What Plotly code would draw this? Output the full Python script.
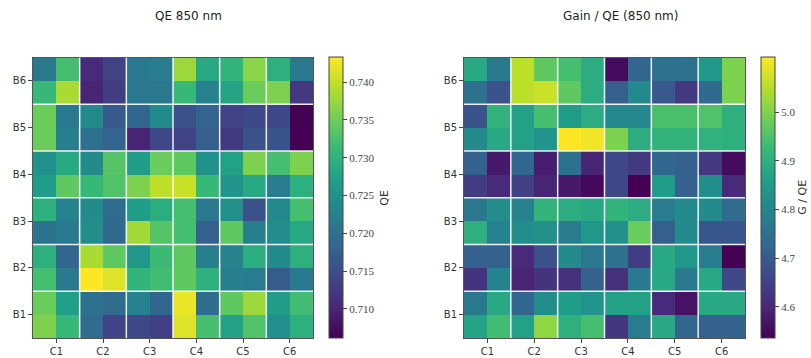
import plotly.graph_objects as go

# ---------------- data ----------------
col_labels = ["C1", "C2", "C3", "C4", "C5", "C6"]
row_labels = ["B6", "B5", "B4", "B3", "B2", "B1"]   # top to bottom

# QE 850 nm, 12x12 sub-cells, rows listed top (B6) to bottom (B1)
qe_r12 = [0.7210, 0.7321, 0.7106, 0.7135, 0.7210, 0.7217, 0.7377, 0.7284, 0.7303, 0.7366, 0.7295, 0.7210]
qe_r11 = [0.7310, 0.7385, 0.7098, 0.7128, 0.7210, 0.7210, 0.7310, 0.7228, 0.7277, 0.7347, 0.7359, 0.7124]
qe_r10 = [0.7347, 0.7210, 0.7236, 0.7165, 0.7184, 0.7240, 0.7154, 0.7180, 0.7135, 0.7143, 0.7143, 0.7061]
qe_r09 = [0.7347, 0.7221, 0.7199, 0.7180, 0.7098, 0.7143, 0.7135, 0.7173, 0.7124, 0.7154, 0.7158, 0.7062]
qe_r08 = [0.7247, 0.7284, 0.7240, 0.7333, 0.7266, 0.7347, 0.7340, 0.7247, 0.7273, 0.7359, 0.7321, 0.7359]
qe_r07 = [0.7266, 0.7340, 0.7310, 0.7329, 0.7359, 0.7396, 0.7403, 0.7310, 0.7254, 0.7284, 0.7217, 0.7295]
qe_r06 = [0.7295, 0.7228, 0.7240, 0.7191, 0.7266, 0.7292, 0.7321, 0.7210, 0.7247, 0.7154, 0.7236, 0.7321]
qe_r05 = [0.7202, 0.7214, 0.7243, 0.7187, 0.7381, 0.7333, 0.7321, 0.7176, 0.7340, 0.7221, 0.7243, 0.7284]
qe_r04 = [0.7295, 0.7184, 0.7385, 0.7340, 0.7258, 0.7314, 0.7340, 0.7221, 0.7228, 0.7292, 0.7240, 0.7295]
qe_r03 = [0.7321, 0.7214, 0.7433, 0.7414, 0.7303, 0.7318, 0.7340, 0.7295, 0.7221, 0.7217, 0.7169, 0.7214]
qe_r02 = [0.7347, 0.7269, 0.7199, 0.7191, 0.7225, 0.7184, 0.7422, 0.7191, 0.7340, 0.7377, 0.7266, 0.7318]
qe_r01 = [0.7359, 0.7310, 0.7191, 0.7135, 0.7143, 0.7132, 0.7414, 0.7321, 0.7273, 0.7329, 0.7247, 0.7295]

# Gain / QE (850 nm)
gq_r12 = [4.882, 4.766, 5.055, 4.969, 4.940, 4.893, 4.552, 4.726, 4.749, 4.749, 4.841, 4.997]
gq_r11 = [4.749, 4.685, 5.055, 5.067, 4.969, 4.893, 4.708, 4.807, 4.697, 4.633, 4.732, 4.997]
gq_r10 = [4.685, 4.911, 4.864, 4.940, 4.853, 4.893, 4.807, 4.807, 4.945, 4.945, 4.951, 4.899]
gq_r09 = [4.812, 4.882, 4.864, 4.836, 5.113, 5.101, 4.997, 4.893, 4.911, 4.911, 4.905, 4.899]
gq_r08 = [4.714, 4.575, 4.726, 4.581, 4.749, 4.593, 4.662, 4.633, 4.726, 4.714, 4.633, 4.552]
gq_r07 = [4.639, 4.604, 4.645, 4.593, 4.575, 4.547, 4.662, 4.535, 4.853, 4.714, 4.818, 4.604]
gq_r06 = [4.766, 4.818, 4.795, 4.911, 4.893, 4.882, 4.911, 4.893, 4.778, 4.812, 4.812, 4.737]
gq_r05 = [4.899, 4.789, 4.818, 4.824, 4.778, 4.841, 4.824, 4.980, 4.708, 4.812, 4.691, 4.691]
gq_r04 = [4.714, 4.714, 4.604, 4.680, 4.812, 4.766, 4.749, 4.639, 4.882, 4.841, 4.778, 4.535]
gq_r03 = [4.622, 4.795, 4.593, 4.622, 4.616, 4.714, 4.616, 4.772, 4.882, 4.772, 4.882, 4.662]
gq_r02 = [4.766, 4.882, 4.726, 4.818, 4.853, 4.836, 4.864, 4.864, 4.604, 4.564, 4.882, 4.882]
gq_r01 = [4.870, 4.934, 4.864, 5.015, 4.899, 4.940, 4.627, 4.778, 4.882, 4.726, 4.714, 4.714]

qe_ticks = [0.710, 0.715, 0.720, 0.725, 0.730, 0.735, 0.740]
gq_ticks = [4.6, 4.7, 4.8, 4.9, 5.0]
qe_range = [0.7061, 0.7433]
gq_range = [4.535, 5.113]

qe_z = [qe_r12, qe_r11, qe_r10, qe_r09, qe_r08, qe_r07, qe_r06, qe_r05, qe_r04, qe_r03, qe_r02, qe_r01]
gq_z = [gq_r12, gq_r11, gq_r10, gq_r09, gq_r08, gq_r07, gq_r06, gq_r05, gq_r04, gq_r03, gq_r02, gq_r01]

# ---------------- layout ----------------
W, H = 811, 358
n = len(qe_z)
sub = list(range(n))
block_centers = [2 * i + 0.5 for i in range(len(col_labels))]
block_edges = [2 * i + 1.5 for i in range(len(col_labels) - 1)]

def px_x(p):
    return p / W

def px_y(p):
    return 1 - p / H

top, bottom = 57.5, 338.0
ydom = [px_y(bottom), px_y(top)]
panels = [
    dict(x0=33, x1=313, cb=329, z=qe_z, rng=qe_range, ticks=qe_ticks, fmt=".3f",
         title="QE 850 nm", tcx=188, cbt="QE", cbtx=385),
    dict(x0=464, x1=745, cb=761, z=gq_z, rng=gq_range, ticks=gq_ticks, fmt=".1f",
         title="Gain / QE (850 nm)", tcx=620, cbt="G / QE", cbtx=803),
]

fig = go.Figure()
annotations = []
shapes = []
axis_font = dict(family="DejaVu Sans", size=10, color="#333333")
for i, p in enumerate(panels):
    sfx = "" if i == 0 else str(i + 1)
    fig.add_trace(go.Heatmap(
        z=p["z"], x=sub, y=sub,
        colorscale="Viridis", zmin=p["rng"][0], zmax=p["rng"][1],
        xaxis="x" + sfx, yaxis="y" + sfx,
        colorbar=dict(
            x=px_x(p["cb"]), xanchor="left", xref="paper",
            y=(ydom[0] + ydom[1]) / 2, yanchor="middle",
            thickness=14, thicknessmode="pixels",
            len=bottom - top, lenmode="pixels",
            outlinecolor="#444444", outlinewidth=1,
            tickvals=p["ticks"], tickformat=p["fmt"],
            ticks="outside", ticklen=4, tickcolor="#444444",
            tickfont=dict(family="Liberation Serif", size=11, color="#444444"),
            xpad=0, ypad=0,
        ),
        hoverinfo="z",
    ))
    xa = dict(domain=[px_x(p["x0"]), px_x(p["x1"])], range=[-0.5, n - 0.5],
              tickvals=block_centers, ticktext=col_labels, ticks="outside",
              ticklen=4, tickcolor="#444444", tickfont=axis_font,
              showgrid=False, zeroline=False, showline=True, mirror=True,
              linecolor="#555555", linewidth=1, anchor="y" + sfx, fixedrange=True)
    ya = dict(domain=ydom, range=[n - 0.5, -0.5],
              tickvals=block_centers, ticktext=row_labels, ticks="outside",
              ticklen=4, tickcolor="#444444", tickfont=axis_font,
              showgrid=False, zeroline=False, showline=True, mirror=True,
              linecolor="#555555", linewidth=1, anchor="x" + sfx, fixedrange=True)
    fig.layout["xaxis" + sfx] = xa
    fig.layout["yaxis" + sfx] = ya
    xr = "x" + sfx
    yr = "y" + sfx
    for e in block_edges:
        shapes.append(dict(type="line", xref=xr, yref=yr, x0=e, x1=e, y0=-0.5, y1=n - 0.5,
                           line=dict(color="rgba(255,255,255,0.9)", width=1.5), layer="above"))
        shapes.append(dict(type="line", xref=xr, yref=yr, y0=e, y1=e, x0=-0.5, x1=n - 0.5,
                           line=dict(color="rgba(255,255,255,0.9)", width=1.5), layer="above"))
    annotations.append(dict(text=p["title"], x=px_x(p["tcx"]), y=px_y(16), xref="paper", yref="paper",
                            xanchor="center", yanchor="middle", showarrow=False,
                            font=dict(family="DejaVu Sans", size=12, color="#222222")))
    annotations.append(dict(text=p["cbt"], x=px_x(p["cbtx"]), y=(ydom[0] + ydom[1]) / 2,
                            xref="paper", yref="paper", xanchor="center", yanchor="middle",
                            textangle=-90, showarrow=False,
                            font=dict(family="DejaVu Sans", size=11, color="#333333")))

fig.update_layout(
    width=W, height=H,
    margin=dict(l=0, r=0, t=0, b=0),
    paper_bgcolor="white", plot_bgcolor="white",
    shapes=shapes, annotations=annotations,
    showlegend=False,
)

fig.write_html("out.html")
